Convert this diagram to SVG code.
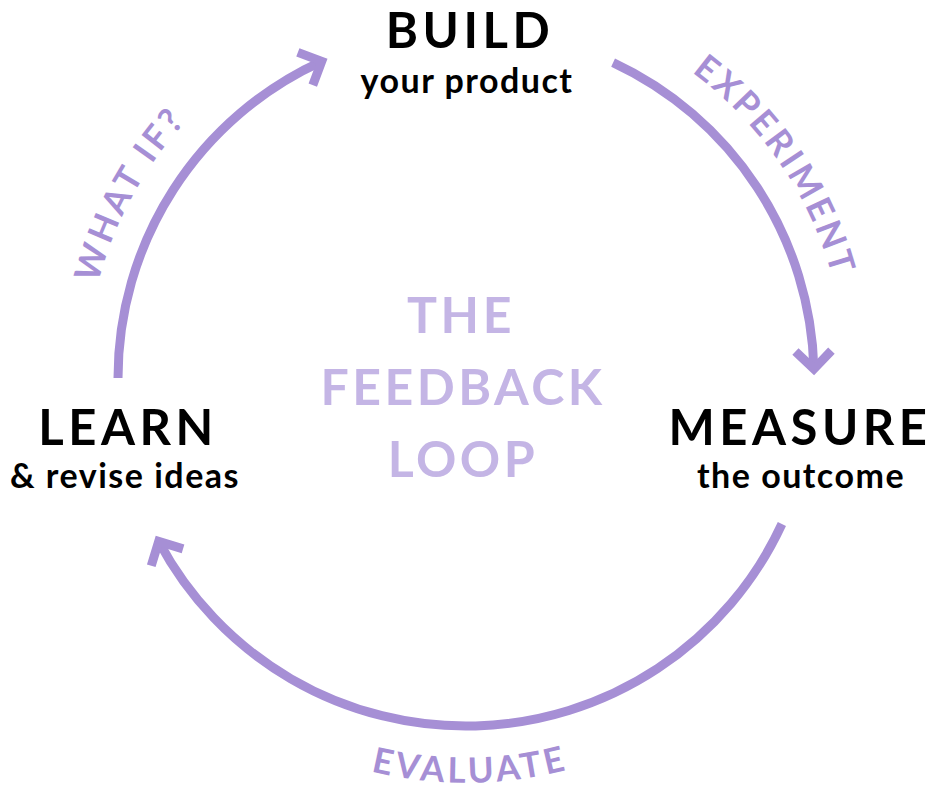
<svg xmlns="http://www.w3.org/2000/svg" width="933" height="789" viewBox="0 0 933 789">
<style>
.arc{fill:none;stroke:#a68fd5;stroke-width:9;stroke-linecap:butt;marker-end:url(#chev)}
.title{font-family:Lato,"Open Sans",sans-serif;font-weight:700;font-size:49px;fill:#000;text-anchor:middle;letter-spacing:4.5px}
.sub{font-family:Lato,"Open Sans",sans-serif;font-weight:700;font-size:34px;fill:#000;text-anchor:middle;letter-spacing:1.5px}
.center{font-family:Lato,"Open Sans",sans-serif;font-weight:700;font-size:50px;fill:#c4b5e5;text-anchor:middle;letter-spacing:3.5px}
.lbl{font-family:Lato,"Open Sans",sans-serif;font-weight:700;font-size:35px;fill:#a68fd5;letter-spacing:3.5px}
</style>
<defs>
<marker id="chev" markerUnits="userSpaceOnUse" markerWidth="40" markerHeight="40" refX="0" refY="0" orient="auto" overflow="visible">
<path d="M-18,-18 L0,0 L-18,18" fill="none" stroke="#a68fd5" stroke-width="9" stroke-linejoin="miter" stroke-miterlimit="10"/>
</marker>
<path id="pWhat" d="M91.8,444 A380,380 0 0 1 323.6,25.7"/>
<path id="pExp" d="M577.1,14.6 A380,380 0 0 1 844.6,411.1"/>
<path id="pEval" d="M209,690.5 A404,404 0 0 0 729.5,685"/>
</defs>
<g id="connectors">
<path id="learn-build" class="arc" d="M118,378 A348,348 0 0 1 321.7,61.3"/>
<path id="build-measure" class="arc" d="M613.1,62.6 A348,348 0 0 1 813.9,369"/>
<path id="measure-learn" class="arc" d="M781.9,524 A348,348 0 0 1 158.7,541.4"/>
<text class="lbl" text-anchor="middle"><textPath href="#pWhat" startOffset="49.5%">WHAT IF?</textPath></text>
<text class="lbl" text-anchor="middle"><textPath href="#pExp" startOffset="49.5%">EXPERIMENT</textPath></text>
<text class="lbl" text-anchor="middle"><textPath href="#pEval" startOffset="50%">EVALUATE</textPath></text>
</g>
<g id="build">
<text class="title" x="470" y="48">BUILD</text>
<text class="sub" x="467" y="93">your product</text>
</g>
<g id="measure">
<text class="title" x="800" y="445">MEASURE</text>
<text class="sub" x="801" y="488">the outcome</text>
</g>
<g id="learn">
<text class="title" x="128" y="445">LEARN</text>
<text class="sub" x="125" y="488">&amp; revise ideas</text>
</g>
<g id="title">
<text class="center" x="461" y="333">THE</text>
<text class="center" x="463" y="405">FEEDBACK</text>
<text class="center" x="463" y="477">LOOP</text>
</g>
</svg>
